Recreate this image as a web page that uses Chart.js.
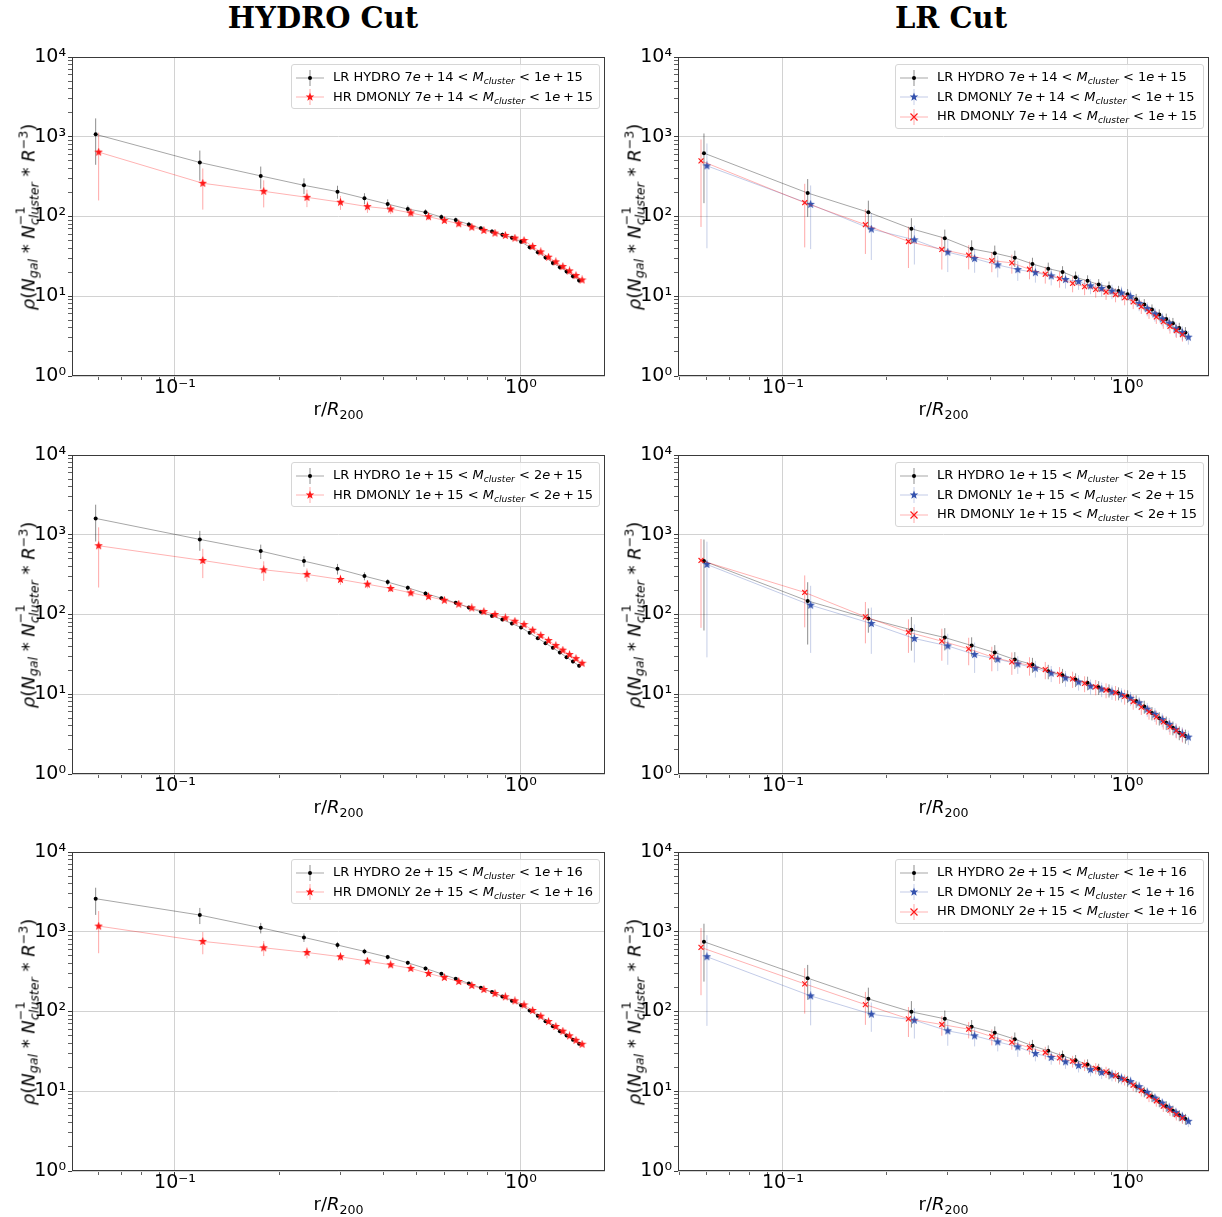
<!DOCTYPE html>
<html>
<head>
<meta charset="utf-8">
<script src="https://cdn.jsdelivr.net/npm/chart.js@4.4.0/dist/chart.umd.min.js"></script>
<style>
  body { margin: 0; background: #fff; font-family: "DejaVu Sans", sans-serif; }
  #fig { position: relative; width: 1222px; height: 1217px; overflow: hidden; }
  canvas { position: absolute; }
  .title { position: absolute; top: 1px; font-family: "DejaVu Serif", serif; font-weight: bold; font-size: 29px; transform: translateX(-50%); white-space: nowrap; }
  .ylab { position: absolute; font-size: 18px; white-space: nowrap; transform: translate(-50%, -50%) rotate(-90deg); }
  .xlab { position: absolute; font-size: 18px; white-space: nowrap; transform: translateX(-50%); }
  .ss { display: inline-block; vertical-align: -0.38em; font-size: 70%; line-height: 1.15; }
  .ss span { display: block; }
  sup, sub { font-size: 70%; line-height: 0; }
  sub { vertical-align: -0.3em; }
  sup { vertical-align: 0.55em; }
  .legend { position: absolute; background: rgba(255,255,255,0.85); border: 1px solid #d6d6d6; border-radius: 3px; padding: 2px 6px 2px 4px; font-size: 13px; }
  .row { height: 19.5px; line-height: 19.5px; white-space: nowrap; }
  .row svg { vertical-align: middle; margin-right: 9px; }
</style>
</head>
<body>
<div id="fig"></div>
<script>
// ---------- data ----------
const r = [0.059, 0.118, 0.177, 0.236, 0.295, 0.353, 0.412, 0.471, 0.530, 0.589, 0.648, 0.707, 0.766,
           0.825, 0.884, 0.942, 1.001, 1.060, 1.119, 1.178, 1.237, 1.296, 1.355, 1.414, 1.473];

const massLo = ["7e+14", "1e+15", "2e+15"];
const massHi = ["1e+15", "2e+15", "1e+16"];
const cutTitles = ["HYDRO Cut", "LR Cut"];

const xTickValues = [0.1, 1];
const xTickLabels = ["10\u207B\u00B9", "10\u2070"];
const yTickValues = [1, 10, 100, 1000, 10000];
const yTickLabels = ["10\u2070", "10\u00B9", "10\u00B2", "10\u00B3", "10\u2074"];

// HYDRO cut
const hc1LrHydro    = [1072, 476, 323, 246, 205, 169, 143, 124, 113, 98.5, 90.3, 79.6, 71, 65, 59, 54, 48.2, 41.3, 35.7, 30.6, 26.2, 23.1, 20.4, 17.8, 15.8];
const hc1LrHydroErr = [627, 195, 100, 55, 38, 27, 21, 13, 10, 8, 7, 6, 5, 4.5, 4, 3.5, 3, 2.7, 2.4, 2.1, 1.9, 1.7, 1.5, 1.3, 1.2];
const hc1HrDm       = [642, 261, 207, 174, 151, 133, 124, 111, 99.5, 89.4, 81.2, 73.7, 66.9, 61.9, 57.9, 53.6, 50.1, 42.1, 36, 30.9, 27, 23.6, 20.8, 18.2, 16];
const hc1HrDmErr    = [483, 139, 77, 43, 30, 22, 17, 12, 9, 7, 6, 5, 4.5, 4, 3.6, 3.3, 3, 2.5, 2.1, 1.8, 1.6, 1.4, 1.2, 1.1, 1];

const hc2LrHydro    = [1603, 874, 624, 467, 374, 303, 255, 216, 184, 160, 140, 122, 108, 96, 86.5, 77, 68.7, 58.9, 50.5, 43.7, 38.2, 33.4, 29.1, 25.7, 22.7];
const hc2LrHydroErr = [780, 245, 128, 70, 57, 35, 22, 16, 12, 10, 8, 7, 6, 5, 4.5, 4, 3.5, 3, 2.6, 2.3, 2, 1.8, 1.6, 1.4, 1.3];
const hc2HrDm       = [728, 476, 364, 318, 275, 240, 212, 187, 168, 151, 135, 121, 109, 100, 90.8, 82.4, 74.8, 63.5, 54.5, 47.2, 40.8, 35.7, 31.5, 28, 24.5];
const hc2HrDmErr    = [510, 190, 100, 60, 40, 28, 20, 15, 12, 10, 8, 7, 6, 5, 4.5, 4, 3.6, 3, 2.6, 2.2, 1.9, 1.7, 1.5, 1.3, 1.2];

const hc3LrHydro    = [2596, 1619, 1122, 849, 681, 567, 481, 408, 347, 297, 257, 225, 198, 175, 154, 136, 120, 103, 88.3, 75.7, 65.5, 56.7, 50, 44.1, 39.3];
const hc3LrHydroErr = [970, 370, 170, 105, 65, 45, 32, 25, 20, 16, 13, 11, 9, 8, 7, 6, 5, 4.5, 4, 3.4, 3, 2.6, 2.3, 2, 1.8];
const hc3HrDm       = [1178, 757, 630, 550, 486, 428, 385, 347, 300, 267, 238, 212, 189, 168, 153, 136, 121, 103, 87.4, 74.9, 64.9, 56.7, 49.5, 43.6, 38.9];
const hc3HrDmErr    = [640, 235, 135, 88, 50, 35, 27, 22, 17, 14, 12, 10, 8.5, 7.5, 6.5, 5.8, 5, 4.3, 3.7, 3.2, 2.8, 2.4, 2.1, 1.9, 1.7];

// LR cut
const lc1LrHydro    = [623, 197, 113, 70.2, 53.5, 39.3, 34.7, 30.3, 25.4, 22.2, 20.2, 17.3, 15.6, 14.0, 13.1, 11.6, 10.6, 9.2, 7.9, 6.8, 5.9, 5.2, 4.6, 4.0, 3.5];
const lc1LrHydroErr = [476, 98, 45, 25, 15, 11, 8.5, 7, 5, 4.2, 3.6, 3.1, 2.7, 2.4, 2.2, 1.9, 1.7, 1.5, 1.3, 1.1, 0.95, 0.85, 0.75, 0.65, 0.6];
const lc1LrDm       = [432, 142, 69.5, 51, 35.7, 29.7, 24.7, 21.6, 19.8, 18, 16.2, 15.3, 13.5, 12.5, 11.6, 11, 9.9, 8.1, 7.0, 6.0, 5.2, 4.6, 3.9, 3.5, 3.07];
const lc1LrDmErr    = [392, 103, 41, 26, 15.6, 10, 7.5, 6, 5, 4.3, 3.7, 3.3, 2.9, 2.6, 2.4, 2.2, 1.9, 1.6, 1.4, 1.2, 1.0, 0.9, 0.8, 0.7, 0.6];
const lc1HrDm       = [499, 149, 78.9, 48.6, 38.6, 32.7, 28.0, 26.2, 21.8, 18.9, 16.6, 14.5, 13.2, 12.2, 11.3, 10.5, 9.6, 8.5, 7.4, 6.4, 5.5, 4.8, 4.2, 3.7, 3.3];
const lc1HrDmErr    = [425, 108, 45, 26, 17, 11, 8, 7, 5.5, 4.5, 3.8, 3.3, 2.9, 2.6, 2.3, 2.1, 1.9, 1.6, 1.4, 1.2, 1.0, 0.9, 0.8, 0.7, 0.6];

const lc2LrHydro    = [467, 148, 89.1, 64.2, 51.4, 40.8, 33.3, 27.2, 23.6, 19.4, 17.3, 15.3, 13.9, 12.2, 11.2, 10.3, 9.5, 8.2, 7.0, 5.8, 5.0, 4.4, 3.8, 3.3, 3.0];
const lc2LrHydroErr = [404, 106, 30, 29, 16, 11, 8, 6.5, 5, 4, 3.5, 3, 2.7, 2.4, 2.1, 1.9, 1.7, 1.5, 1.3, 1.1, 0.95, 0.85, 0.75, 0.65, 0.6];
const lc2LrDm       = [424, 131, 77.1, 50, 40.4, 31.5, 27.5, 24, 21.2, 18.4, 16, 14.2, 12.6, 11.6, 10.7, 9.9, 8.9, 7.8, 6.5, 5.6, 4.8, 4.2, 3.6, 3.2, 2.9];
const lc2LrDmErr    = [395, 98, 45, 25, 17, 13, 8, 6, 5, 4.2, 3.6, 3.1, 2.7, 2.4, 2.2, 2.0, 1.8, 1.5, 1.3, 1.1, 0.95, 0.85, 0.75, 0.65, 0.6];
const lc2HrDm       = [476, 189, 93.5, 60, 46.3, 37.1, 29.4, 25.5, 23.1, 20.4, 17.7, 15.6, 13.7, 12.4, 11.3, 10.5, 9.4, 8.1, 6.9, 6.0, 5.2, 4.5, 3.9, 3.5, 3.1];
const lc2HrDmErr    = [408, 120, 50, 27, 20, 14, 10, 8, 6, 5, 4.2, 3.6, 3.1, 2.7, 2.4, 2.2, 2.0, 1.7, 1.4, 1.2, 1.05, 0.9, 0.8, 0.7, 0.62];

const lc3LrHydro    = [749, 262, 144, 99, 80.9, 64.2, 54, 45, 37.1, 32.1, 27.8, 24.5, 21.6, 19.1, 16.8, 15, 13.5, 11.5, 9.9, 8.6, 7.4, 6.5, 5.7, 5.0, 4.5];
const lc3LrHydroErr = [512, 122, 55, 36, 22, 14, 11, 9.5, 7, 5.5, 4.6, 4, 3.5, 3, 2.7, 2.4, 2.1, 1.8, 1.5, 1.3, 1.1, 1, 0.9, 0.8, 0.7];
const lc3LrDm       = [486, 157, 92.6, 77.8, 57.2, 49.5, 41.6, 36, 29.7, 26.5, 23.4, 21, 18.7, 17.2, 16, 14.6, 13.2, 11.4, 9.7, 8.2, 7.1, 6.2, 5.4, 4.8, 4.2];
const lc3LrDmErr    = [420, 90, 37, 32, 20, 13, 10, 9, 6, 5, 4.3, 3.8, 3.3, 3, 2.7, 2.4, 2.1, 1.8, 1.5, 1.3, 1.1, 1, 0.85, 0.75, 0.65];
const lc3HrDm       = [636, 222, 122, 80.9, 68.7, 60, 48.6, 41.2, 35.3, 30.6, 26.2, 23.8, 21.4, 19.4, 17.5, 15.7, 14, 11.9, 10.2, 8.7, 7.6, 6.5, 5.8, 5.1, 4.6];
const lc3HrDmErr    = [476, 128, 54, 33, 19, 14, 11, 8, 6.5, 5.5, 4.6, 4, 3.5, 3.1, 2.8, 2.5, 2.2, 1.9, 1.6, 1.4, 1.2, 1, 0.9, 0.8, 0.7];

// ---------- styles ----------
const SHIFT = 1.02;   // small horizontal offset between series, as in the original

function starImage(color, size) {
    const c = document.createElement("canvas");
    c.width = size; c.height = size;
    const g = c.getContext("2d");
    const R = size / 2, ri = R * 0.42;
    g.beginPath();
    for (let i = 0; i < 10; i++) {
        const a = -Math.PI / 2 + i * Math.PI / 5;
        const rad = i % 2 ? ri : R;
        g.lineTo(R + rad * Math.cos(a), R + rad * Math.sin(a));
    }
    g.closePath();
    g.fillStyle = color;
    g.fill();
    return c;
}

const STY = {
    lrHydro: { name: "LR HYDRO", marker: "dot", color: "#000000", line: "rgba(0,0,0,0.35)", err: "rgba(0,0,0,0.45)" },
    lrDm:    { name: "LR DMONLY", marker: "star", color: "#3452ae", line: "rgba(52,82,174,0.3)", err: "rgba(52,82,174,0.28)" },
    hrDmS:   { name: "HR DMONLY", marker: "star", color: "#ff1a1a", line: "rgba(255,0,0,0.3)", err: "rgba(255,0,0,0.35)" },
    hrDmX:   { name: "HR DMONLY", marker: "x", color: "#ff1a1a", line: "rgba(255,0,0,0.3)", err: "rgba(255,0,0,0.35)" }
};

// ---------- layout ----------
const cols = [
    { left: 72, right: 605, xmin: 0.0504, xmax: 1.75, title: 323 },
    { left: 678, right: 1209, xmin: 0.0496, xmax: 1.7245, title: 951 }
];
const rowTops = [57, 455, 852];
const AX_H = 319;

const panels = [
    { col: 0, row: 0, bin: 0, series: [["lrHydro", hc1LrHydro, hc1LrHydroErr, 1], ["hrDmS", hc1HrDm, hc1HrDmErr, SHIFT]] },
    { col: 0, row: 1, bin: 1, series: [["lrHydro", hc2LrHydro, hc2LrHydroErr, 1], ["hrDmS", hc2HrDm, hc2HrDmErr, SHIFT]] },
    { col: 0, row: 2, bin: 2, series: [["lrHydro", hc3LrHydro, hc3LrHydroErr, 1], ["hrDmS", hc3HrDm, hc3HrDmErr, SHIFT]] },
    { col: 1, row: 0, bin: 0, series: [["lrHydro", lc1LrHydro, lc1LrHydroErr, 1], ["lrDm", lc1LrDm, lc1LrDmErr, SHIFT], ["hrDmX", lc1HrDm, lc1HrDmErr, 1 / SHIFT]] },
    { col: 1, row: 1, bin: 1, series: [["lrHydro", lc2LrHydro, lc2LrHydroErr, 1], ["lrDm", lc2LrDm, lc2LrDmErr, SHIFT], ["hrDmX", lc2HrDm, lc2HrDmErr, 1 / SHIFT]] },
    { col: 1, row: 2, bin: 2, series: [["lrHydro", lc3LrHydro, lc3LrHydroErr, 1], ["lrDm", lc3LrDm, lc3LrDmErr, SHIFT], ["hrDmX", lc3HrDm, lc3HrDmErr, 1 / SHIFT]] }
];

const fig = document.getElementById("fig");

function massText(s) {
    const p = s.split("e+");
    return p[0] + "<i>e</i>&#8201;+&#8201;" + p[1];
}

function handleSvg(sty) {
    let m = "";
    if (sty.marker === "dot") m = '<circle cx="14" cy="8" r="2" fill="' + sty.color + '"/>';
    if (sty.marker === "star") {
        let pts = [];
        for (let i = 0; i < 10; i++) {
            const a = -Math.PI / 2 + i * Math.PI / 5, rad = i % 2 ? 1.9 : 4.5;
            pts.push((14 + rad * Math.cos(a)).toFixed(2) + "," + (8 + rad * Math.sin(a)).toFixed(2));
        }
        m = '<polygon points="' + pts.join(" ") + '" fill="' + sty.color + '"/>';
    }
    if (sty.marker === "x") m = '<path d="M10.5 4.5L17.5 11.5M17.5 4.5L10.5 11.5" stroke="' + sty.color + '" stroke-width="1.2"/>';
    return '<svg width="28" height="16"><line x1="0" y1="8" x2="28" y2="8" stroke="' + sty.line + '" stroke-width="1"/>' +
           '<line x1="14" y1="0" x2="14" y2="16" stroke="' + sty.err + '" stroke-width="1"/>' + m + '</svg>';
}

const framePlugin = {
    id: "frame",
    afterDraw(chart) {
        const a = chart.chartArea, g = chart.ctx;
        g.save();
        g.strokeStyle = "#3a3a3a";
        g.lineWidth = 1;
        g.strokeRect(Math.round(a.left) + 0.5, Math.round(a.top) + 0.5, Math.round(a.right - a.left) - 1, Math.round(a.bottom - a.top) - 1);
        g.restore();
    }
};

function logTicks(lo, hi, majors) {
    const out = [];
    for (let e = Math.floor(Math.log10(lo)); e <= Math.ceil(Math.log10(hi)); e++) {
        for (let m = 1; m < 10; m++) {
            const v = m * Math.pow(10, e);
            if (v >= lo * 0.9999 && v <= hi * 1.0001) out.push({ value: v, major: m === 1 && majors.some(t => Math.abs(t - v) / v < 1e-6) });
        }
    }
    return out;
}

function labelFor(v, vals, labels) {
    for (let i = 0; i < vals.length; i++) if (Math.abs(vals[i] - v) / vals[i] < 1e-6) return labels[i];
    return "";
}

const PAD_L = 70, PAD_T = 14, PAD_R = 6, PAD_B = 36;

panels.forEach(p => {
    const c = cols[p.col];
    const top = rowTops[p.row];
    const axW = c.right - c.left;

    const cv = document.createElement("canvas");
    cv.width = axW + PAD_L + PAD_R;
    cv.height = AX_H + PAD_T + PAD_B;
    cv.style.left = (c.left - PAD_L) + "px";
    cv.style.top = (top - PAD_T) + "px";
    fig.appendChild(cv);

    const markerSets = [], errSets = [];
    p.series.forEach(([key, vals, errs, shift]) => {
        const s = STY[key];
        const ds = {
            data: r.map((x, i) => ({ x: x * shift, y: vals[i] })),
            borderColor: s.line,
            borderWidth: 1,
            tension: 0,
            pointBorderColor: s.color,
            pointBackgroundColor: s.color
        };
        if (s.marker === "dot") { ds.pointStyle = "circle"; ds.pointRadius = 2; ds.pointBorderWidth = 0; }
        if (s.marker === "star") { ds.pointStyle = starImage(s.color, 9); }
        if (s.marker === "x") { ds.pointStyle = "crossRot"; ds.pointRadius = 3.5; ds.pointBorderWidth = 1.2; }
        markerSets.unshift(ds);   // later series on top

        const ed = [];
        r.forEach((x, i) => {
            ed.push({ x: x * shift, y: Math.max(vals[i] - errs[i], 1e-3) });
            ed.push({ x: x * shift, y: vals[i] + errs[i] });
            ed.push({ x: x * shift, y: null });
        });
        errSets.push({ data: ed, borderColor: s.err, borderWidth: 1, pointRadius: 0, spanGaps: false });
    });

    new Chart(cv, {
        type: "line",
        data: { datasets: markerSets.concat(errSets) },
        options: {
            responsive: false,
            animation: false,
            devicePixelRatio: 1,
            layout: { padding: { left: 0, top: PAD_T, right: PAD_R, bottom: 0 } },
            plugins: { legend: { display: false }, tooltip: { enabled: false } },
            scales: {
                x: {
                    type: "logarithmic",
                    min: c.xmin, max: c.xmax,
                    afterBuildTicks: sc => { sc.ticks = logTicks(c.xmin, c.xmax, xTickValues); },
                    afterFit: sc => { sc.height = PAD_B; },
                    border: { display: false },
                    grid: {
                        color: ctx => ctx.tick && ctx.tick.major ? "#d2d2d2" : "rgba(0,0,0,0)",
                        tickColor: "#3a3a3a",
                        tickLength: 4,
                        tickWidth: ctx => ctx.tick && ctx.tick.major ? 1 : 0.8
                    },
                    ticks: {
                        autoSkip: false, maxRotation: 0, padding: -3, color: "#000",
                        font: { family: "DejaVu Sans", size: 19 },
                        callback: v => labelFor(v, xTickValues, xTickLabels)
                    }
                },
                y: {
                    type: "logarithmic",
                    min: 1, max: 10000,
                    afterBuildTicks: sc => { sc.ticks = logTicks(1, 10000, yTickValues); },
                    afterFit: sc => { sc.width = PAD_L; },
                    border: { display: false },
                    grid: {
                        color: ctx => ctx.tick && ctx.tick.major ? "#d2d2d2" : "rgba(0,0,0,0)",
                        tickColor: "#3a3a3a",
                        tickLength: 4,
                        tickWidth: ctx => ctx.tick && ctx.tick.major ? 1 : 0.8
                    },
                    ticks: {
                        autoSkip: false, padding: 2, color: "#000",
                        font: { family: "DejaVu Sans", size: 19 },
                        callback: v => labelFor(v, yTickValues, yTickLabels)
                    }
                }
            }
        },
        plugins: [framePlugin]
    });

    // axis titles
    const yl = document.createElement("div");
    yl.className = "ylab";
    yl.style.left = (c.left - 44) + "px";
    yl.style.top = (top + AX_H / 2) + "px";
    yl.innerHTML = '<i>\u03C1</i>(<i>N</i><sub><i>gal</i></sub> * <i>N</i><span class="ss"><span>\u22121</span><span><i>cluster</i></span></span> * <i>R</i><sup>\u22123</sup>)';
    fig.appendChild(yl);

    const xl = document.createElement("div");
    xl.className = "xlab";
    xl.style.left = ((c.left + c.right) / 2) + "px";
    xl.style.top = (top + AX_H + 22) + "px";
    xl.innerHTML = 'r/<i>R</i><sub>200</sub>';
    fig.appendChild(xl);

    // legend
    const lg = document.createElement("div");
    lg.className = "legend";
    lg.style.right = (1222 - c.right + 5) + "px";
    lg.style.top = (top + 7) + "px";
    lg.innerHTML = p.series.map(([key]) => {
        const s = STY[key];
        return '<div class="row">' + handleSvg(s) + s.name + " " + massText(massLo[p.bin]) +
               " &lt; <i>M</i><sub><i>cluster</i></sub> &lt; " + massText(massHi[p.bin]) + "</div>";
    }).join("");
    fig.appendChild(lg);
});

cols.forEach((c, i) => {
    const t = document.createElement("div");
    t.className = "title";
    t.style.left = c.title + "px";
    t.textContent = cutTitles[i];
    fig.appendChild(t);
});
</script>
</body>
</html>
